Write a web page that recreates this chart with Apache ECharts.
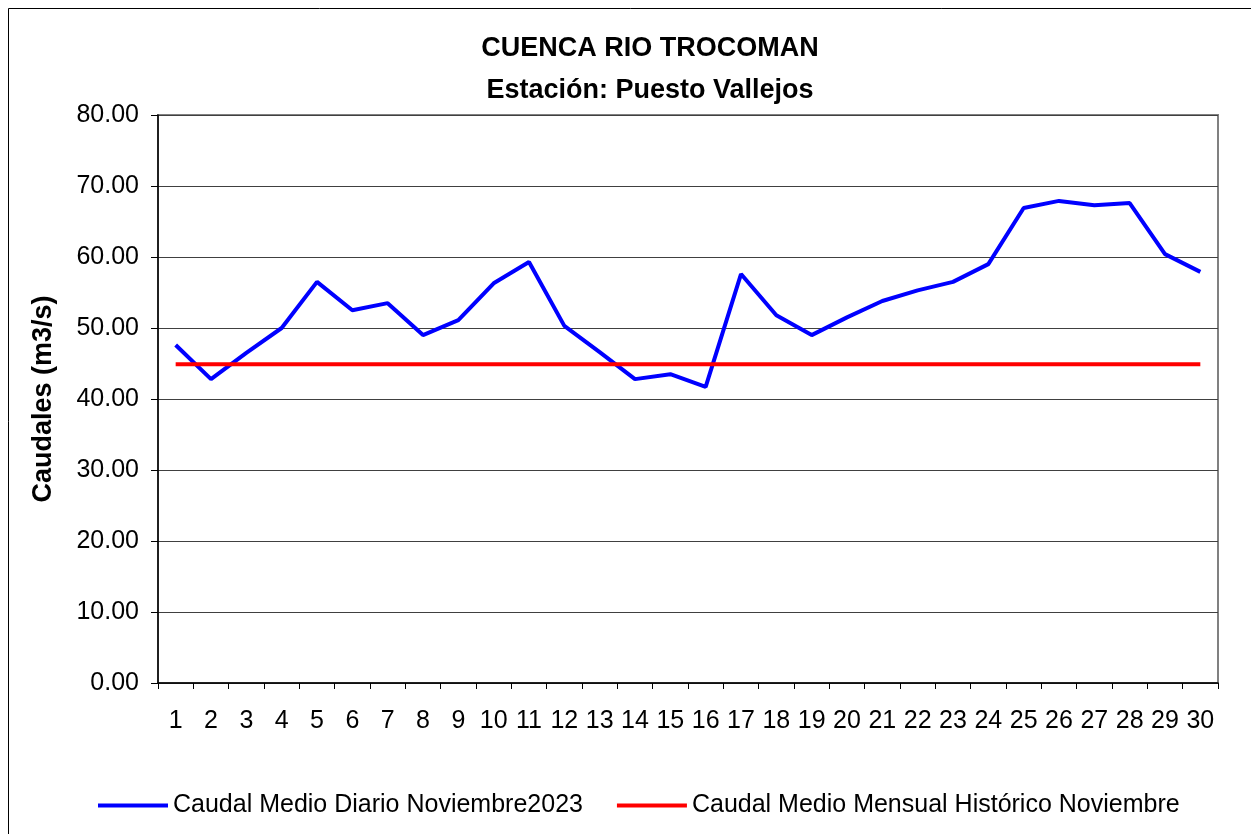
<!DOCTYPE html>
<html><head><meta charset="utf-8">
<script src="https://cdn.jsdelivr.net/npm/echarts@6/dist/echarts.min.js"></script>
<style>html,body{margin:0;padding:0;background:#fff}#c{width:1251px;height:834px}</style>
</head><body><div id="c"></div>
<script>
const categories = ['1','2','3','4','5','6','7','8','9','10','11','12','13','14','15','16','17','18','19','20','21','22','23','24','25','26','27','28','29','30'];
const daily = [47.6,42.8,46.5,50.0,56.5,52.5,53.5,49.0,51.1,56.3,59.3,50.3,46.6,42.8,43.5,41.7,57.6,51.8,49.0,51.5,53.8,55.3,56.5,59.0,66.9,67.9,67.3,67.6,60.4,57.9];
const historic = [44.9,44.9,44.9,44.9,44.9,44.9,44.9,44.9,44.9,44.9,44.9,44.9,44.9,44.9,44.9,44.9,44.9,44.9,44.9,44.9,44.9,44.9,44.9,44.9,44.9,44.9,44.9,44.9,44.9,44.9];
const yTicks = [0,10,20,30,40,50,60,70,80];
const titleLines = ['CUENCA RIO TROCOMAN','Estación: Puesto Vallejos'];
const seriesNames = ['Caudal Medio Diario Noviembre2023','Caudal Medio Mensual Histórico Noviembre'];

const font = 'Liberation Sans, Arial, sans-serif';
const chart = echarts.init(document.getElementById('c'));
chart.setOption({
  animation:false,
  backgroundColor:'#fff',
  graphic:[{type:'rect',shape:{x:8.5,y:8.5,width:1260,height:840},style:{fill:'none',stroke:'#000',lineWidth:1},silent:true}],
  title:{text:titleLines.join('\n'),left:645,textAlign:'center',top:23,
    textStyle:{fontFamily:font,fontWeight:'bold',fontSize:27,color:'#000',lineHeight:42}},
  grid:{left:158,right:33,top:115,bottom:151,show:true,borderColor:'#808080',borderWidth:2,backgroundColor:'#fff'},
  legend:{bottom:11,left:93,itemWidth:70,itemHeight:4,itemGap:34,icon:'rect',
    textStyle:{fontFamily:font,fontSize:25,color:'#000',padding:[0,0,0,0]},
    data:seriesNames},
  xAxis:{type:'category',data:categories,boundaryGap:true,
    axisLine:{lineStyle:{color:'#000',width:1.5}},
    axisTick:{show:true,interval:0,length:6,lineStyle:{color:'#000'}},
    axisLabel:{interval:0,fontFamily:font,fontSize:25,color:'#000',margin:26}},
  yAxis:{type:'value',min:0,max:80,interval:10,
    name:'Caudales (m3/s)',nameLocation:'middle',nameGap:101,
    nameTextStyle:{fontFamily:font,fontSize:27,fontWeight:'bold',color:'#000'},
    axisLine:{show:true,lineStyle:{color:'#000',width:1.5}},
    axisTick:{show:true,length:7,lineStyle:{color:'#000'}},
    axisLabel:{fontFamily:font,fontSize:25,color:'#000',margin:19,formatter:v=>v.toFixed(2)},
    splitLine:{lineStyle:{color:'#404040',width:1}}},
  series:[
    {name:seriesNames[0],type:'line',data:daily,symbol:'none',lineStyle:{color:'#0000ff',width:4},itemStyle:{color:'#0000ff'}},
    {name:seriesNames[1],type:'line',data:historic,symbol:'none',lineStyle:{color:'#ff0000',width:4},itemStyle:{color:'#ff0000'}}
  ]
});
</script></body></html>
